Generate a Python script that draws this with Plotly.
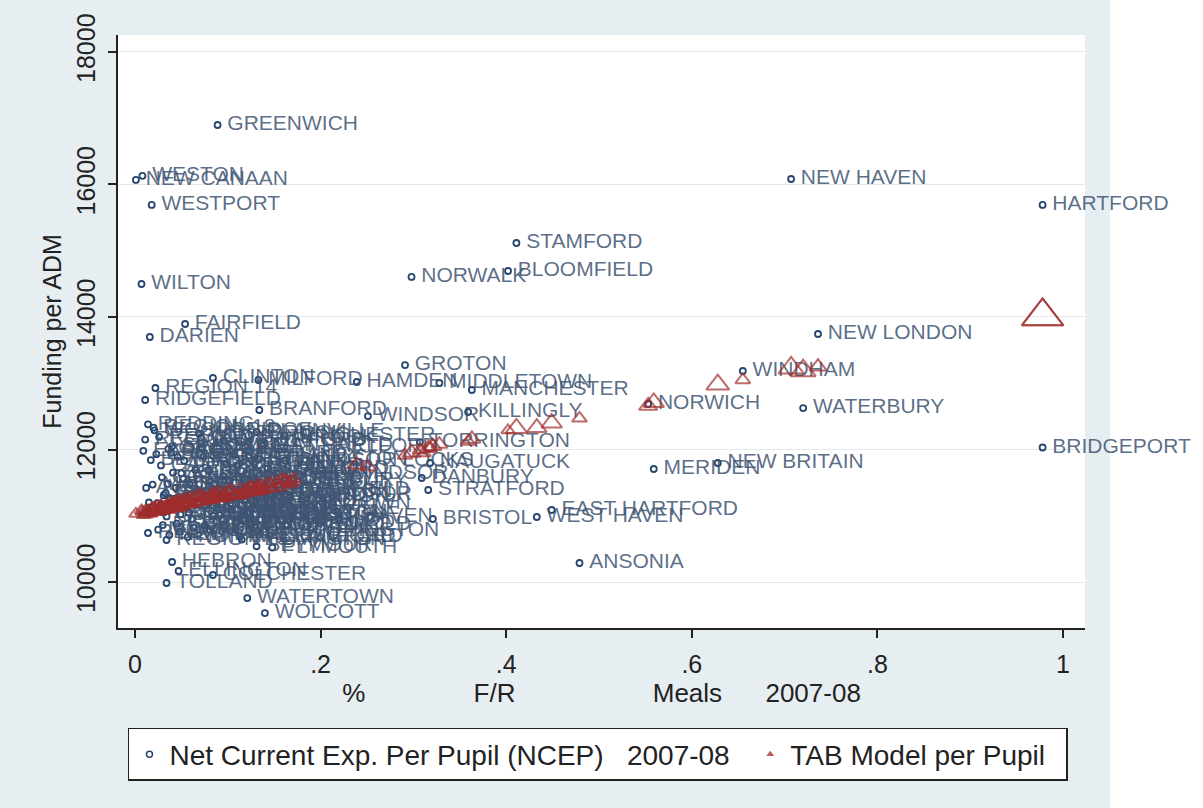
import plotly.graph_objects as go

# District names, % free/reduced meals (share), net current expenditure per pupil,
# TAB model funding per pupil, and TAB marker size (larger districts drawn larger)
district = [
    "GREENWICH", "WESTON", "NEW CANAAN", "WESTPORT", "WILTON", "FAIRFIELD", "DARIEN", "CLINTON",
    "REGION 14", "RIDGEFIELD", "MILFORD", "HAMDEN", "GROTON", "MIDDLETOWN", "MANCHESTER", "WINDSOR",
    "KILLINGLY", "BRANFORD", "PLAINVILLE", "WEST HARTFORD", "NAUGATUCK", "TORRINGTON", "DANBURY", "STRATFORD",
    "BRISTOL", "WEST HAVEN", "EAST HARTFORD", "ANSONIA", "MERIDEN", "NEW BRITAIN", "NORWICH", "WINDHAM",
    "WATERBURY", "NEW LONDON", "NEW HAVEN", "HARTFORD", "BRIDGEPORT", "STAMFORD", "NORWALK", "BLOOMFIELD",
    "HEBRON", "ELLINGTON", "COLCHESTER", "TOLLAND", "WATERTOWN", "WOLCOTT", "REGION 12", "REGION 13",
    "AVON", "BERLIN", "BETHEL", "BOLTON", "BROOKFIELD", "CANTON", "CHESHIRE", "COVENTRY",
    "CROMWELL", "EAST GRANBY", "EAST HAMPTON", "EAST LYME", "EASTON", "ENFIELD", "FARMINGTON", "GLASTONBURY",
    "GRANBY", "GUILFORD", "LEDYARD", "MADISON", "MANSFIELD", "MONROE", "NEW FAIRFIELD", "NEW MILFORD",
    "NEWINGTON", "NEWTOWN", "NORTH HAVEN", "OLD SAYBROOK", "ORANGE", "OXFORD", "PLYMOUTH", "PORTLAND",
    "REDDING", "ROCKY HILL", "SEYMOUR", "SHELTON", "SIMSBURY", "SOMERS", "SOUTHINGTON", "SOUTH WINDSOR",
    "STONINGTON", "SUFFIELD", "THOMASTON", "TRUMBULL", "VERNON", "WALLINGFORD", "WATERFORD", "WETHERSFIELD",
    "WINDSOR LOCKS", "WOODBRIDGE", "BETHANY", "NORTH BRANFORD", "EAST HAVEN", "EAST WINDSOR", "MONTVILLE", "NEW HARTFORD",
    "GRISWOLD", "PLAINFIELD", "STAFFORD", "THOMPSON", "WINCHESTER", "CANTERBURY", "BROOKLYN", "POMFRET",
    "WOODSTOCK", "ASHFORD", "WILLINGTON", "COLUMBIA", "ANDOVER", "MARLBOROUGH", "SALEM", "BOZRAH",
    "NORTH STONINGTON", "PRESTON", "VOLUNTOWN", "EAST HADDAM", "DEEP RIVER", "ESSEX", "WESTBROOK", "BARKHAMSTED",
    "LITCHFIELD", "DERBY", "REGION 4", "REGION 5", "REGION 6", "REGION 7", "REGION 8", "REGION 9",
    "REGION 10", "REGION 15", "REGION 16", "REGION 17", "REGION 18", "REGION 19",
]

frl_share = [
    0.089, 0.008, 0.001, 0.018, 0.007, 0.054, 0.016, 0.084,
    0.022, 0.011, 0.133, 0.239, 0.291, 0.328, 0.363, 0.251,
    0.359, 0.134, 0.131, 0.119, 0.318, 0.307, 0.309, 0.316,
    0.321, 0.433, 0.449, 0.479, 0.559, 0.628, 0.553, 0.655,
    0.720, 0.736, 0.707, 0.978, 0.978, 0.411, 0.298, 0.402,
    0.040, 0.047, 0.084, 0.034, 0.121, 0.140, 0.014, 0.034,
    0.012, 0.068, 0.082, 0.041, 0.031, 0.028, 0.045, 0.101,
    0.118, 0.074, 0.063, 0.088, 0.009, 0.158, 0.052, 0.049,
    0.034, 0.043, 0.126, 0.019, 0.138, 0.025, 0.037, 0.109,
    0.121, 0.027, 0.079, 0.071, 0.036, 0.048, 0.148, 0.066,
    0.014, 0.095, 0.131, 0.104, 0.040, 0.061, 0.092, 0.093,
    0.133, 0.044, 0.115, 0.038, 0.167, 0.113, 0.096, 0.086,
    0.162, 0.021, 0.017, 0.057, 0.169, 0.153, 0.146, 0.055,
    0.164, 0.156, 0.143, 0.136, 0.161, 0.128, 0.124, 0.098,
    0.077, 0.107, 0.084, 0.029, 0.046, 0.024, 0.059, 0.072,
    0.081, 0.099, 0.140, 0.065, 0.091, 0.023, 0.069, 0.033,
    0.053, 0.171, 0.026, 0.015, 0.039, 0.035, 0.030, 0.011,
    0.031, 0.050, 0.075, 0.058, 0.020, 0.110,
]

ncep = [
    16898, 16130, 16068, 15691, 14498, 13894, 13698, 13079,
    12928, 12747, 13049, 13019, 13275, 13004, 12898, 12505,
    12566, 12596, 12264, 12038, 11796, 12110, 11570, 11389,
    10951, 10981, 11087, 10287, 11706, 11796, 12687, 13185,
    12626, 13743, 16083, 15691, 12030, 15117, 14604, 14694,
    10302, 10166, 10106, 9985, 9758, 9532, 10740, 10634,
    11420, 11180, 11310, 11650, 11050, 11760, 10880, 11540,
    11230, 11890, 10820, 11120, 11980, 10930, 11560, 11020,
    10990, 11260, 10870, 11470, 12060, 10790, 10710, 10900,
    11050, 11120, 11690, 12180, 12010, 10760, 10520, 11380,
    12380, 11600, 10540, 11090, 12050, 10950, 11010, 11320,
    11850, 11420, 10640, 11260, 11280, 10690, 12130, 11480,
    11830, 12290, 11840, 10680, 10980, 11640, 11110, 11300,
    10860, 11390, 11710, 11360, 12210, 11530, 10960, 11780,
    11150, 11930, 11000, 11580, 11890, 11190, 11470, 12030,
    10780, 11240, 11180, 11690, 11420, 11930, 12240, 11340,
    11830, 11560, 12190, 11200, 11950, 11480, 10860, 12150,
    11310, 11640, 10850, 11050, 12330, 11760,
]

tab_model = [
    11300, 11060, 11030, 11110, 11080, 11200, 11040, 11330,
    11090, 11070, 11440, 11770, 11910, 12080, 12160, 11740,
    12120, 11400, 11390, 11380, 12030, 11990, 11960, 12020,
    12050, 12330, 12400, 12470, 12710, 12980, 12660, 13050,
    13190, 13250, 13230, 14010, 14010, 12320, 11950, 12290,
    11170, 11130, 11290, 11120, 11350, 11420, 11050, 11100,
    11020, 11310, 11250, 11190, 11080, 11150, 11120, 11380,
    11330, 11290, 11180, 11350, 11010, 11540, 11250, 11130,
    11170, 11150, 11440, 11110, 11380, 11060, 11180, 11300,
    11420, 11130, 11230, 11300, 11090, 11220, 11410, 11200,
    11080, 11260, 11460, 11380, 11120, 11270, 11350, 11270,
    11370, 11210, 11310, 11100, 11500, 11400, 11290, 11270,
    11550, 11120, 11030, 11260, 11510, 11520, 11490, 11160,
    11470, 11430, 11480, 11470, 11530, 11350, 11420, 11340,
    11230, 11310, 11240, 11090, 11230, 11140, 11190, 11220,
    11310, 11280, 11400, 11290, 11260, 11060, 11210, 11110,
    11170, 11560, 11100, 11070, 11160, 11150, 11120, 11050,
    11080, 11190, 11280, 11240, 11060, 11330,
]

tab_size = [
    13, 12, 12, 12, 12, 13, 12, 12,
    12, 12, 13, 15, 13, 14, 15, 14,
    13, 12, 12, 13, 13, 13, 16, 15,
    15, 17, 18, 13, 18, 20, 16, 13,
    22, 15, 22, 36, 36, 19, 16, 12,
    12, 12, 12, 12, 12, 12, 12, 12,
    12, 12, 12, 12, 12, 12, 13, 12,
    12, 12, 12, 12, 12, 13, 12, 13,
    12, 12, 12, 12, 12, 12, 12, 12,
    12, 13, 12, 12, 12, 12, 12, 12,
    12, 12, 12, 13, 12, 12, 13, 12,
    12, 12, 12, 13, 13, 13, 12, 12,
    12, 12, 12, 12, 13, 12, 12, 12,
    12, 12, 12, 12, 12, 12, 12, 12,
    12, 12, 12, 12, 12, 12, 12, 12,
    12, 12, 12, 12, 12, 12, 12, 12,
    12, 13, 12, 12, 12, 12, 12, 12,
    12, 12, 12, 12, 12, 12,
]

x_ticks = [0, 0.2, 0.4, 0.6, 0.8, 1]
x_tick_text = ["0", ".2", ".4", ".6", ".8", "1"]
y_ticks = [10000, 12000, 14000, 16000, 18000]

NB = "\u00a0"
x_title = "%" + NB * 15 + "F/R" + NB * 19 + "Meals" + NB * 6 + "2007-08" + NB * 3
ncep_name = "Net Current Exp. Per Pupil (NCEP)" + NB * 3 + "2007-08" + NB * 2
tab_name = "TAB Model per Pupil" + NB * 2

FONT = "Liberation Sans, Arial, sans-serif"
NAVY = "#27466f"
MAROON = "#a02c2c"
LABEL = "rgba(62,84,114,0.85)"
BG = "#e7eef1"
INK = "#222222"

fig = go.Figure()

# NCEP: small hollow circles
fig.add_trace(go.Scatter(
    x=frl_share, y=ncep, mode="markers",
    marker=dict(symbol="circle-open", size=6, color=NAVY, line=dict(width=1.8)),
    showlegend=False, hoverinfo="skip",
))

# district names to the right of each NCEP point (transparent marker sets the gap)
fig.add_trace(go.Scatter(
    x=frl_share, y=ncep, mode="markers+text", text=district,
    textposition="middle right", cliponaxis=False,
    marker=dict(size=14, opacity=0),
    textfont=dict(family=FONT, size=21, color=LABEL),
    showlegend=False, hoverinfo="skip",
))

# TAB model: hollow triangles sized by district
fig.add_trace(go.Scatter(
    x=frl_share, y=tab_model, mode="markers",
    marker=dict(symbol="triangle-up-open", size=tab_size, color=MAROON, line=dict(width=2)),
    showlegend=False, hoverinfo="skip",
))

# legend keys
fig.add_trace(go.Scatter(
    x=[None], y=[None], mode="markers", name=ncep_name,
    marker=dict(symbol="circle-open", size=6, color=NAVY, line=dict(width=1.5)),
))
fig.add_trace(go.Scatter(
    x=[None], y=[None], mode="markers", name=tab_name,
    marker=dict(symbol="triangle-up", size=7, color="#c05a5a"),
))

axis_common = dict(
    zeroline=False, showline=True, linecolor=INK, linewidth=1.5,
    ticks="outside", ticklen=8, tickwidth=1.5, tickcolor=INK,
)

fig.update_layout(
    width=1203, height=808,
    margin=dict(l=118, r=118, t=35, b=180),
    paper_bgcolor=BG, plot_bgcolor="white",
    font=dict(family=FONT, color=INK),
    xaxis=dict(
        range=[-0.0183, 1.0237], tickvals=x_ticks, ticktext=x_tick_text,
        showgrid=False, tickfont=dict(size=25, color=INK), ticklabelstandoff=5,
        title=dict(text=x_title, font=dict(size=26, color=INK), standoff=0),
        **axis_common,
    ),
    yaxis=dict(
        range=[9306, 18256], tickvals=y_ticks, tickformat="d", tickangle=-90,
        showgrid=True, gridcolor="#e2e8eb", gridwidth=1,
        tickfont=dict(size=25, color=INK), ticklabelstandoff=3,
        title=dict(text="Funding per ADM", font=dict(size=25, color=INK), standoff=4),
        **axis_common,
    ),
    legend=dict(
        orientation="h", x=0.0103, y=-0.1686, xanchor="left", yanchor="top",
        bgcolor="white", bordercolor=INK, borderwidth=1.5,
        font=dict(size=28, color=INK), itemsizing="trace",
    ),
    shapes=[dict(
        type="rect", xref="paper", yref="paper", layer="below",
        x0=1.0259, x1=1.2, y0=-0.4, y1=1.2,
        fillcolor="white", line=dict(width=0),
    )],
)

fig.write_html("out.html", config={"displayModeBar": False})
